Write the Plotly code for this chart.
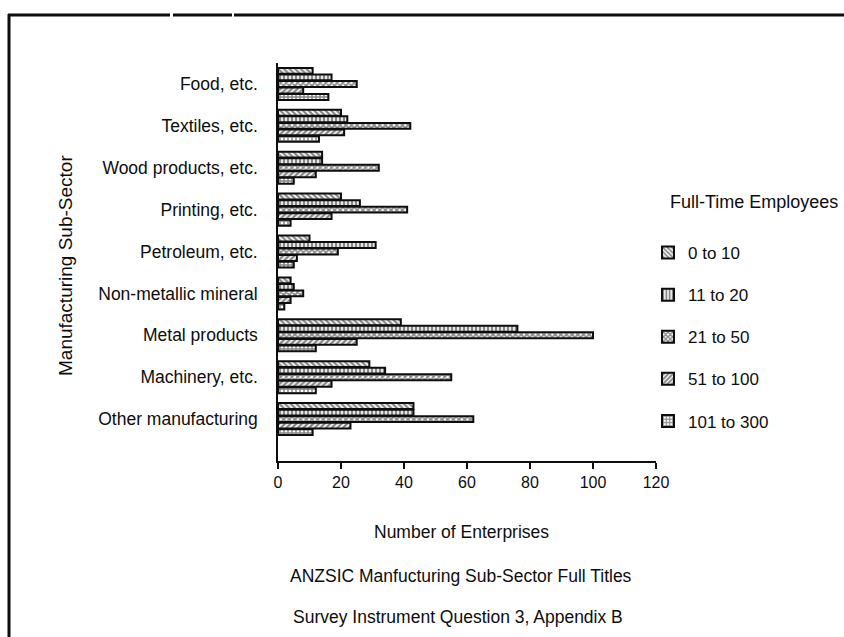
import plotly.graph_objects as go

# Manufacturing sub-sectors (top to bottom)
categories = [
    "Food, etc.", "Textiles, etc.", "Wood products, etc.", "Printing, etc.",
    "Petroleum, etc.", "Non-metallic mineral", "Metal products",
    "Machinery, etc.", "Other manufacturing",
]

# Number of enterprises by full-time employee band
emp_0_10 = [11, 20, 14, 20, 10, 4, 39, 29, 43]
emp_11_20 = [17, 22, 14, 26, 31, 5, 76, 34, 43]
emp_21_50 = [25, 42, 32, 41, 19, 8, 100, 55, 62]
emp_51_100 = [8, 21, 12, 17, 6, 4, 25, 17, 23]
emp_101_300 = [16, 13, 5, 4, 5, 2, 12, 12, 11]

series_names = ["0 to 10", "11 to 20", "21 to 50", "51 to 100", "101 to 300"]
series_values = [emp_0_10, emp_11_20, emp_21_50, emp_51_100, emp_101_300]
patterns = ["\\", "|", "x", "/", "+"]
solidities = [0.55, 0.6, 0.65, 0.6, 0.6]

x_ticks = [0, 20, 40, 60, 80, 100, 120]

INK = "#0d0d0d"
FONT = "Liberation Sans, Arial, sans-serif"

W, H = 844, 637
L, R, T, B = 278, 656, 63, 461  # plot area in pixels


def px_x(p):
    return (p - L) / (R - L)


def px_y(p):
    return (B - p) / (B - T)


fig = go.Figure()
for name, vals, pat, sol in zip(series_names, series_values, patterns, solidities):
    fig.add_trace(go.Bar(
        y=categories, x=vals, name=name, orientation="h",
        legendgroup=name,
        marker=dict(
            color="white",
            line=dict(color=INK, width=2),
            pattern=dict(shape=pat, fgcolor=INK, bgcolor="white",
                         size=4, solidity=sol),
        ),
    ))

annotations = [
    dict(text="Manufacturing Sub-Sector", x=px_x(65), y=px_y(266),
         textangle=-90, font=dict(size=19)),
    dict(text="Number of Enterprises", x=px_x(461), y=px_y(532),
         font=dict(size=17.5)),
    dict(text="ANZSIC Manfucturing Sub-Sector Full Titles", x=px_x(461),
         y=px_y(576), font=dict(size=17.5)),
    dict(text="Survey Instrument Question 3, Appendix B", x=px_x(458),
         y=px_y(617), font=dict(size=17.5)),
    dict(text="Full-Time Employees", x=px_x(754), y=px_y(202),
         font=dict(size=18)),
]
for a in annotations:
    a.update(xref="paper", yref="paper", showarrow=False,
             xanchor="center", yanchor="middle")

# Page frame: heavy rule along the top and down the left side
frame = [
    dict(x0=px_x(8), x1=px_x(170), y0=px_y(15), y1=px_y(15)),
    dict(x0=px_x(173), x1=px_x(232), y0=px_y(15), y1=px_y(15)),
    dict(x0=px_x(234), x1=px_x(844), y0=px_y(15), y1=px_y(15)),
    dict(x0=px_x(9), x1=px_x(9), y0=px_y(14), y1=px_y(637)),
]
for s in frame:
    s.update(type="line", xref="paper", yref="paper",
             line=dict(color=INK, width=3))

fig.update_layout(
    width=W, height=H,
    margin=dict(l=L, r=W - R, t=T, b=H - B),
    paper_bgcolor="white", plot_bgcolor="white",
    font=dict(family=FONT, size=17, color=INK),
    barmode="group", bargap=0.22, bargroupgap=0.1,
    showlegend=True,
    legend=dict(
        x=px_x(648), y=px_y(235), xanchor="left", yanchor="top",
        traceorder="grouped", tracegroupgap=17,
        font=dict(size=17, color=INK), itemwidth=30,
        bgcolor="rgba(0,0,0,0)",
    ),
    annotations=annotations,
    shapes=frame,
)

fig.update_xaxes(
    range=[0, 120], tickvals=x_ticks, ticktext=[str(v) for v in x_ticks],
    showgrid=False, zeroline=False,
    showline=True, linecolor=INK, linewidth=1.5,
    ticks="outside", ticklen=6, tickwidth=2, tickcolor=INK,
    tickfont=dict(size=16),
)
fig.update_yaxes(
    categoryorder="array", categoryarray=categories,
    range=[9.0, -0.5],
    showgrid=False, zeroline=False,
    showline=True, linecolor=INK, linewidth=1.5,
    ticks="", ticklabelstandoff=15,
    tickfont=dict(size=17.5),
)

fig.write_html("out.html")
